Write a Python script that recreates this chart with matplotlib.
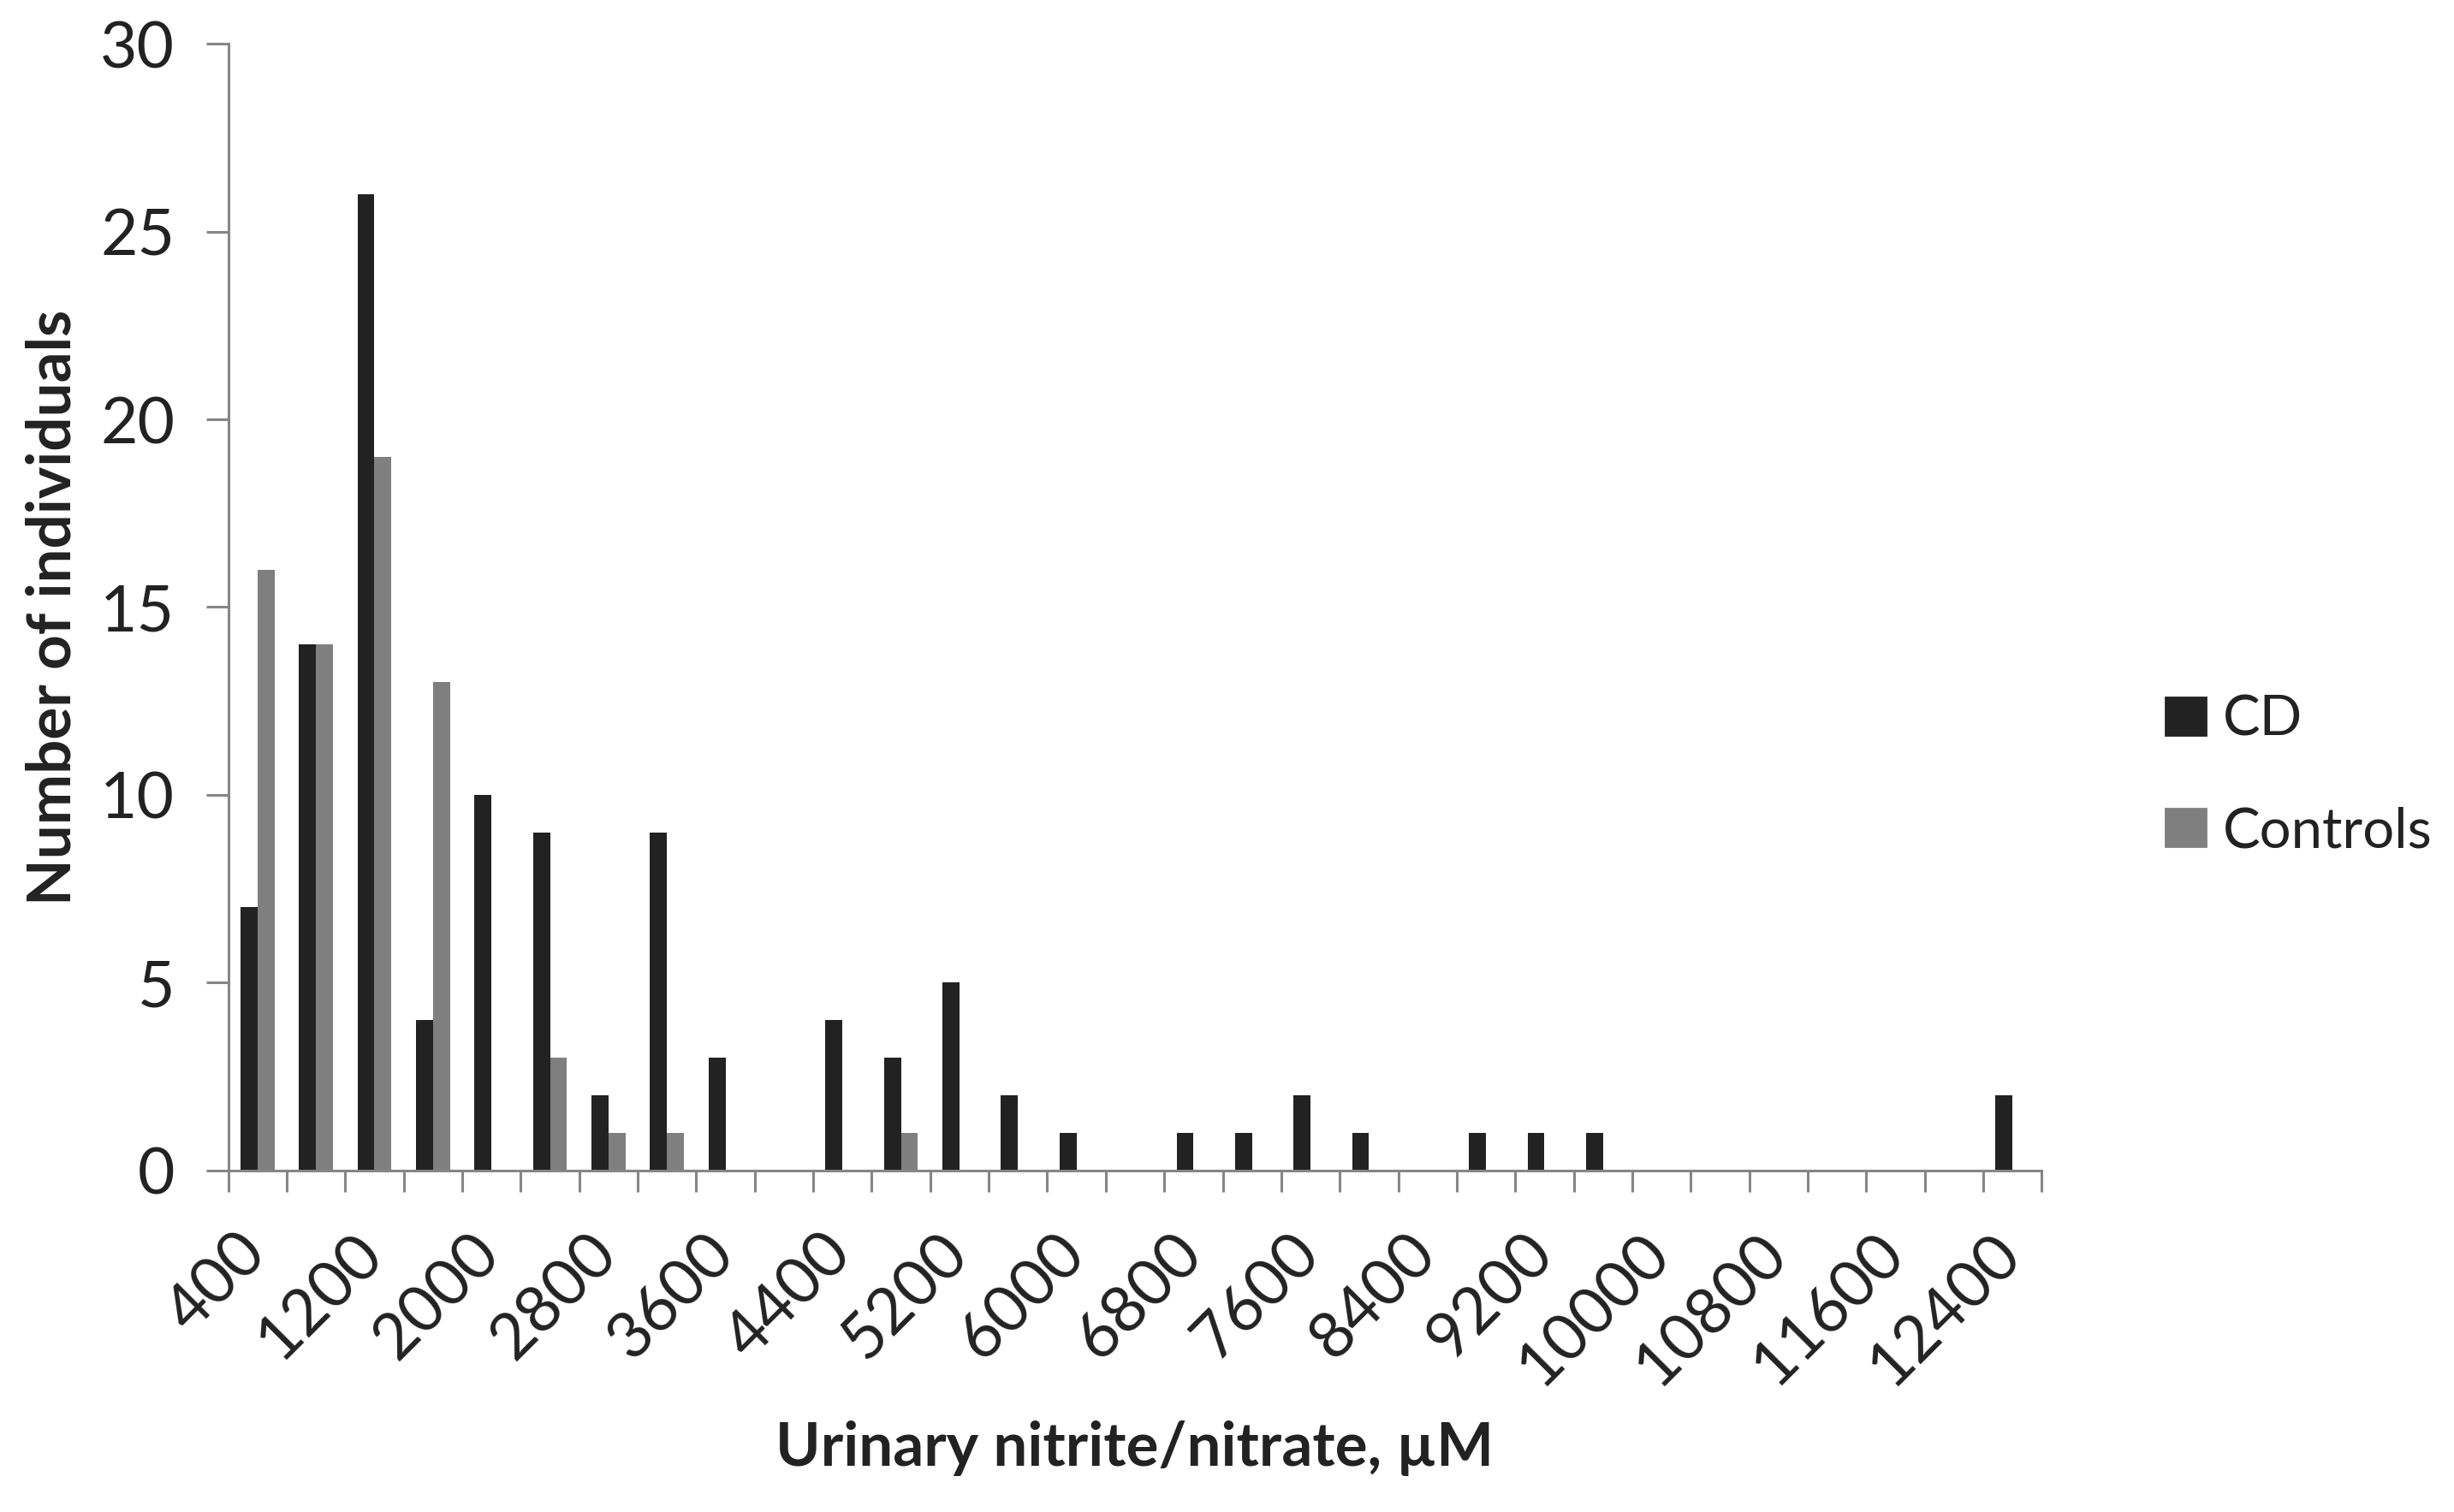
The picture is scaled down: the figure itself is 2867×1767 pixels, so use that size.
import numpy as np
import matplotlib.pyplot as plt
from matplotlib.patches import Patch

# category bins (uM), step 400
bins = list(range(400, 12401, 400))
cd = [7, 14, 26, 4, 10, 9, 2, 9, 3, 0, 4, 3, 5, 2, 1, 0,
      1, 1, 2, 1, 0, 1, 1, 1, 0, 0, 0, 0, 0, 0, 2]
controls = [16, 14, 19, 13, 0, 3, 1, 1, 0, 0, 0, 1, 0, 0, 0, 0,
            0, 0, 0, 0, 0, 0, 0, 0, 0, 0, 0, 0, 0, 0, 0]
yticks = [0, 5, 10, 15, 20, 25, 30]

plt.rcParams['font.family'] = ['Lato', 'DejaVu Sans']
dark = '#222222'
grey = '#7f7f7f'
axcol = '#868686'

fig = plt.figure(figsize=(14.335, 8.835), dpi=200)
ax = fig.add_axes([0.093, 0.226, 0.739, 0.745])

x = np.arange(len(bins))
w = 0.29
ax.bar(x - w / 2, cd, w, color=dark, label='CD')
ax.bar(x + w / 2, controls, w, color=grey, label='Controls')

ax.set_xlim(-0.5, len(bins) - 0.5)
ax.set_ylim(0, 30)
ax.set_yticks(yticks)

# labels on every second category, tick marks between categories
ax.set_xticks(x[::2] + 0.33)
ax.set_xticklabels([str(b) for b in bins[::2]], rotation=45, ha='right', va='top')
ax.set_xticks(np.arange(-0.5, len(bins), 1.0), minor=True)
ax.tick_params(axis='x', which='major', length=0, pad=22, labelsize=27, labelcolor='#222222')
ax.tick_params(axis='x', which='minor', length=9, width=1.1, color=axcol)
ax.tick_params(axis='y', length=9.5, width=1.1, color=axcol, pad=13, labelsize=27, labelcolor='#222222')

for s in ['top', 'right']:
    ax.spines[s].set_visible(False)
for s in ['left', 'bottom']:
    ax.spines[s].set_color(axcol)
    ax.spines[s].set_linewidth(1.1)

ax.set_ylabel('Number of individuals', fontsize=25.5, fontweight='bold', color='#222222', labelpad=8)
ax.set_xlabel('Urinary nitrite/nitrate, µM', fontsize=25.5, fontweight='bold', color='#222222')
ax.xaxis.set_label_coords(0.5, -0.222)

handles = [Patch(color=dark, label='CD'), Patch(color=grey, label='Controls')]
fig.legend(handles=handles, loc='center left', bbox_to_anchor=(0.862, 0.487), frameon=False,
           fontsize=23.5, handlelength=0.72, handleheight=0.66, handletextpad=0.3,
           labelspacing=1.1, labelcolor='#222222')

fig.savefig('out.png', dpi=200)
